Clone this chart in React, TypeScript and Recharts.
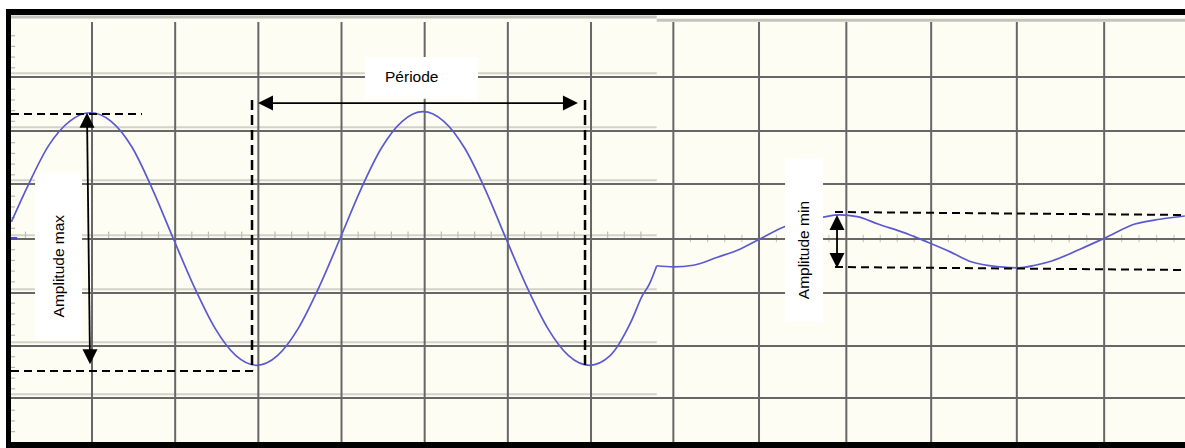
import React from "react";
import {
  ComposedChart,
  Line,
  Scatter,
  XAxis,
  YAxis,
  ReferenceLine,
  ReferenceArea,
} from "recharts";

// Units: screen divisions (x: time divisions, y: volts divisions, 0 = centre line)
const X_DOMAIN: [number, number] = [0.026, 14.142];
const Y_DOMAIN: [number, number] = [-3.794, 4.187];

const PANEL_SPLIT = 7.79; // where the first screenshot ends
const GRID_TOP = 4.056;

const leftGridX = [1, 2, 3, 4, 5, 6, 7];
const rightGridX = [7.99, 9.02, 10.07, 11.09, 12.12, 13.17];
const gridY = [3.03, 2.02, 1.03, 0, -1.01, -2.0, -2.97];

// large signal (left screenshot)
const leftTrace = [
  { x: 0.03, y: 0.32 },
  { x: 0.23, y: 1.0 },
  { x: 0.48, y: 1.75 },
  { x: 0.73, y: 2.2 },
  { x: 0.98, y: 2.36 },
  { x: 1.23, y: 2.2 },
  { x: 1.48, y: 1.72 },
  { x: 1.73, y: 0.92 },
  { x: 1.98, y: 0.0 },
  { x: 2.23, y: -0.9 },
  { x: 2.48, y: -1.67 },
  { x: 2.73, y: -2.18 },
  { x: 2.98, y: -2.36 },
  { x: 3.23, y: -2.18 },
  { x: 3.48, y: -1.67 },
  { x: 3.73, y: -0.9 },
  { x: 3.98, y: 0.0 },
  { x: 4.23, y: 0.92 },
  { x: 4.48, y: 1.7 },
  { x: 4.73, y: 2.2 },
  { x: 4.98, y: 2.38 },
  { x: 5.23, y: 2.2 },
  { x: 5.48, y: 1.7 },
  { x: 5.73, y: 0.92 },
  { x: 5.98, y: 0.0 },
  { x: 6.23, y: -0.9 },
  { x: 6.48, y: -1.67 },
  { x: 6.73, y: -2.18 },
  { x: 6.98, y: -2.36 },
  { x: 7.23, y: -2.18 },
  { x: 7.48, y: -1.55 },
  { x: 7.62, y: -1.05 },
  { x: 7.7, y: -0.85 },
  { x: 7.79, y: -0.5 },
];

// small signal (right screenshot)
const rightTrace = [
  { x: 7.79, y: -0.5 },
  { x: 7.99, y: -0.52 },
  { x: 8.23, y: -0.49 },
  { x: 8.52, y: -0.34 },
  { x: 8.79, y: -0.19 },
  { x: 9.03, y: 0.0 },
  { x: 9.31, y: 0.22 },
  { x: 9.51, y: 0.33 },
  { x: 9.79, y: 0.41 },
  { x: 9.99, y: 0.45 },
  { x: 10.2, y: 0.42 },
  { x: 10.45, y: 0.28 },
  { x: 10.78, y: 0.11 },
  { x: 11.05, y: -0.06 },
  { x: 11.32, y: -0.24 },
  { x: 11.58, y: -0.43 },
  { x: 11.92, y: -0.52 },
  { x: 12.14, y: -0.54 },
  { x: 12.34, y: -0.49 },
  { x: 12.54, y: -0.41 },
  { x: 12.88, y: -0.19 },
  { x: 13.18, y: 0.02 },
  { x: 13.54, y: 0.28 },
  { x: 13.84, y: 0.37 },
  { x: 14.14, y: 0.43 },
];

// annotation lines [x1, y1, x2, y2]
const dashedH = [
  [0.026, 2.336, 1.601, 2.336],
  [0.026, -2.467, 2.936, -2.467],
  [9.934, 0.505, 14.142, 0.449],
  [9.934, -0.523, 14.142, -0.579],
];
const dashedV = [
  [2.924, 2.598, 2.924, -2.467],
  [6.928, 2.598, 6.928, -2.374],
];
const arrowShafts = [
  [0.94, 2.3, 0.976, -2.3],
  [3.05, 2.54, 6.8, 2.54],
  [9.958, 0.4, 9.958, -0.5],
];
const arrowHeads = [
  { x: 0.94, y: 2.36, dir: "up" },
  { x: 0.976, y: -2.34, dir: "down" },
  { x: 2.996, y: 2.54, dir: "left" },
  { x: 6.843, y: 2.54, dir: "right" },
  { x: 9.958, y: 0.449, dir: "up" },
  { x: 9.958, y: -0.542, dir: "down" },
];

const labels = [
  { text: "Période", x1: 4.283, x2: 5.641, y1: 2.62, y2: 3.4, vertical: false },
  { text: "Amplitude max", x1: 0.315, x2: 0.88, y1: -1.87, y2: 1.23, vertical: true },
  { text: "Amplitude min", x1: 9.333, x2: 9.79, y1: -1.55, y2: 1.51, vertical: true },
];

// minor graduation marks (decoration)
const leftCentreTicks: number[] = [];
for (let k = 1; k < 39; k++) if (k % 5 !== 0) leftCentreTicks.push(k * 0.2);
const rightCentreTicks: number[] = [];
for (let i = 0; i < rightGridX.length; i++) {
  const a = rightGridX[i];
  const b = i + 1 < rightGridX.length ? rightGridX[i + 1] : a + 1.05;
  for (let k = 1; k < 5; k++) {
    const v = a + ((b - a) * k) / 5;
    if (v < X_DOMAIN[1] - 0.05) rightCentreTicks.push(v);
  }
}
const leftEdgeTicks: number[] = [];
for (let k = -18; k <= 20; k++) if (k % 5 !== 0) leftEdgeTicks.push(k * 0.2);

const GRID = "#676767";
const LIGHT = "#d2d2c8";
const TRACE = "#5a5ad0";
const FONT = "'Liberation Sans', Arial, sans-serif";

const seg = (x1: number, y1: number, x2: number, y2: number) => [
  { x: x1, y: y1 },
  { x: x2, y: y2 },
];

const ArrowHead = (props: any) => {
  const { cx, cy, payload } = props;
  if (cx == null || cy == null) return null;
  const L = 15;
  const w = 7.5;
  let pts = "";
  if (payload.dir === "up") pts = `${cx},${cy} ${cx - w},${cy + L} ${cx + w},${cy + L}`;
  if (payload.dir === "down") pts = `${cx},${cy} ${cx - w},${cy - L} ${cx + w},${cy - L}`;
  if (payload.dir === "left") pts = `${cx},${cy} ${cx + L},${cy - w} ${cx + L},${cy + w}`;
  if (payload.dir === "right") pts = `${cx},${cy} ${cx - L},${cy - w} ${cx - L},${cy + w}`;
  return <polygon points={pts} fill="#000" />;
};

const BoxText = (props: any) => {
  const { viewBox, text, vertical } = props;
  if (!viewBox) return null;
  const { x, y, width, height } = viewBox;
  if (vertical) {
    const tx = x + width / 2 + 5;
    const ty = y + height / 2 + 10;
    return (
      <text
        x={tx}
        y={ty}
        transform={`rotate(-90 ${tx} ${ty})`}
        textAnchor="middle"
        fontSize={15.5}
        fontFamily={FONT}
        fill="#000"
      >
        {text}
      </text>
    );
  }
  return (
    <text x={x + 20} y={y + 25} fontSize={15.5} fontFamily={FONT} fill="#000">
      {text}
    </text>
  );
};

export default function App() {
  return (
    <div
      style={{
        position: "fixed",
        left: 0,
        top: 0,
        width: 1185,
        height: 448,
        background: "#fff",
        overflow: "hidden",
      }}
    >
      <div
        style={{
          position: "absolute",
          left: 6,
          top: 9,
          width: 1179,
          height: 439,
          boxSizing: "border-box",
          borderLeft: "5px solid #000",
          borderTop: "6px solid #000",
          borderBottom: "6px solid #000",
          background: "#fdfdf4",
        }}
      />
      <div style={{ position: "absolute", left: 0, top: 0, width: 1185, height: 448, overflow: "hidden" }}>
        <ComposedChart
          width={1185}
          height={448}
          margin={{ top: 15, right: 0, bottom: 6, left: 11 }}
          accessibilityLayer={false}
          style={{ outline: "none" }}
        >
          <XAxis type="number" dataKey="x" domain={X_DOMAIN} hide allowDataOverflow />
          <YAxis type="number" dataKey="y" domain={Y_DOMAIN} hide allowDataOverflow />

          {/* top light edges of the two screenshots */}
          <ReferenceLine segment={seg(X_DOMAIN[0], 4.15, PANEL_SPLIT, 4.15)} stroke="#c4c4bc" strokeWidth={3} ifOverflow="visible" />
          <ReferenceLine segment={seg(PANEL_SPLIT, 4.09, X_DOMAIN[1], 4.09)} stroke="#c4c4bc" strokeWidth={3} ifOverflow="visible" />

          {/* light doubled lines of the left screenshot */}
          {gridY.map((g, i) => (
            <ReferenceLine key={`lh${i}`} segment={seg(X_DOMAIN[0], g + 0.07, PANEL_SPLIT, g + 0.07)} stroke={LIGHT} strokeWidth={2} ifOverflow="visible" />
          ))}
          {leftCentreTicks.map((t, i) => (
            <ReferenceLine key={`lt${i}`} segment={seg(t, 0.0, t, 0.14)} stroke="#bdbdb4" strokeWidth={1.2} ifOverflow="visible" />
          ))}
          {rightCentreTicks.map((t, i) => (
            <ReferenceLine key={`rt${i}`} segment={seg(t, -0.06, t, 0.08)} stroke="#c9c9c0" strokeWidth={1.2} ifOverflow="visible" />
          ))}
          {leftEdgeTicks.map((t, i) => (
            <ReferenceLine key={`et${i}`} segment={seg(X_DOMAIN[0], t, 0.075, t)} stroke="#b8b8b0" strokeWidth={1.2} ifOverflow="visible" />
          ))}

          {/* main grid */}
          {gridY.map((g, i) => (
            <ReferenceLine key={`h${i}`} segment={seg(X_DOMAIN[0], g, X_DOMAIN[1], g)} stroke={GRID} strokeWidth={2} ifOverflow="visible" />
          ))}
          {leftGridX.map((g, i) => (
            <ReferenceLine key={`vl${i}`} segment={seg(g, GRID_TOP, g, Y_DOMAIN[0])} stroke={GRID} strokeWidth={2} ifOverflow="visible" />
          ))}
          {rightGridX.map((g, i) => (
            <ReferenceLine key={`vr${i}`} segment={seg(g, GRID_TOP, g, Y_DOMAIN[0])} stroke={GRID} strokeWidth={2} ifOverflow="visible" />
          ))}

          {/* ground marker */}
          <ReferenceLine segment={seg(X_DOMAIN[0], 0.01, 0.1, 0.01)} stroke="#4a4ad0" strokeWidth={3} ifOverflow="visible" />

          <Line data={leftTrace} dataKey="y" type="monotone" stroke={TRACE} strokeWidth={1.7} dot={false} isAnimationActive={false} />
          <Line data={rightTrace} dataKey="y" type="monotone" stroke={TRACE} strokeWidth={1.7} dot={false} isAnimationActive={false} />

          {dashedH.map((d, i) => (
            <ReferenceLine key={`dh${i}`} segment={seg(d[0], d[1], d[2], d[3])} stroke="#000" strokeWidth={2} strokeDasharray="8 5" ifOverflow="visible" />
          ))}
          {dashedV.map((d, i) => (
            <ReferenceLine key={`dv${i}`} segment={seg(d[0], d[1], d[2], d[3])} stroke="#000" strokeWidth={2.5} strokeDasharray="10 5" ifOverflow="visible" />
          ))}
          {arrowShafts.map((d, i) => (
            <ReferenceLine key={`as${i}`} segment={seg(d[0], d[1], d[2], d[3])} stroke="#000" strokeWidth={1.8} ifOverflow="visible" />
          ))}

          {labels.map((l, i) => (
            <ReferenceArea
              key={`lb${i}`}
              x1={l.x1}
              x2={l.x2}
              y1={l.y1}
              y2={l.y2}
              fill="#ffffff"
              fillOpacity={1}
              stroke="none"
              ifOverflow="visible"
              {...({ zIndex: 1500 } as any)}
              label={<BoxText text={l.text} vertical={l.vertical} />}
            />
          ))}

          <Scatter data={arrowHeads} dataKey="y" shape={ArrowHead} isAnimationActive={false} />
        </ComposedChart>
      </div>
    </div>
  );
}
